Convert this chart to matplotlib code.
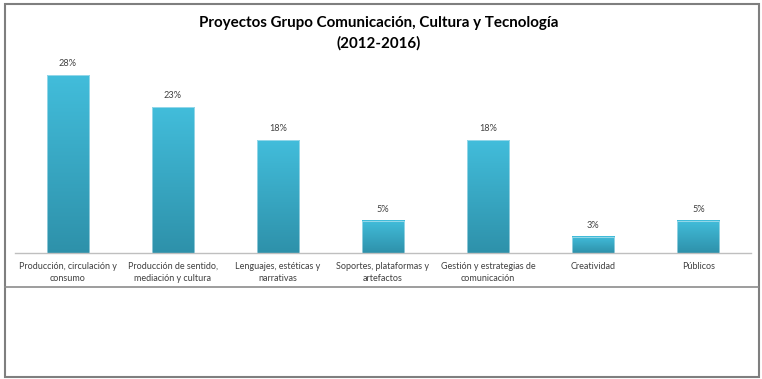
import matplotlib
matplotlib.use("Agg")
import matplotlib.pyplot as plt
import numpy as np
from matplotlib.colors import LinearSegmentedColormap
from matplotlib.patches import Rectangle
from matplotlib.lines import Line2D

categories = [
    "Producción, circulación y\nconsumo",
    "Producción de sentido,\nmediación y cultura",
    "Lenguajes, estéticas y\nnarrativas",
    "Soportes, plataformas y\nartefactos",
    "Gestión y estrategias de\ncomunicación",
    "Creatividad",
    "Públicos",
]
values = [28.2, 23.1, 17.9, 5.1, 17.9, 2.6, 5.1]
title = "Proyectos Grupo Comunicación, Cultura y Tecnología\n(2012-2016)"

W, H = 762, 379
fig = plt.figure(figsize=(W / 100, H / 100), dpi=100)
plt.rcParams['font.family'] = ['Lato', 'DejaVu Sans']

def fx(px):
    return px / W

def fy(py):
    return (H - py) / H

ax = fig.add_axes([fx(15), fy(253), fx(751) - fx(15), fy(60) - fy(253)])
x = np.arange(len(categories))
bars = ax.bar(x, values, width=0.4, color='none', edgecolor='none')

cmap = LinearSegmentedColormap.from_list("g", ["#2E91AA", "#42BDDB"])
grad = np.linspace(0, 1, 256).reshape(-1, 1)
for b in bars:
    x0 = b.get_x()
    w = b.get_width()
    h = b.get_height()
    ax.imshow(grad, extent=[x0, x0 + w, 0, h], origin='lower', cmap=cmap,
              aspect='auto', zorder=2, interpolation='bilinear')
    ax.add_patch(Rectangle((x0, 0), w, h, facecolor='none',
                           edgecolor='#D6EEF5', lw=0.4, zorder=3))
    ax.text(x0 + w / 2, h + 1.1, f"{h:.0f}%", ha='center', va='bottom',
            fontsize=6.6, color='#404040')

ax.set_xlim(-0.5, len(categories) - 0.5)
ax.set_ylim(0, 30.6)
ax.set_xticks(x)
ax.set_xticklabels(categories, fontsize=6.5, color='#404040', linespacing=1.45)
ax.tick_params(axis='x', length=0, pad=6.5)
ax.set_yticks([])
for s in ['top', 'right', 'left']:
    ax.spines[s].set_visible(False)
ax.spines['bottom'].set_color('#BFBFBF')
ax.spines['bottom'].set_linewidth(1.0)
ax.patch.set_alpha(0)

fig.text(fx(379), fy(33), title, ha='center', va='center', fontsize=10.9,
         fontweight='bold', color='black', linespacing=1.55)

fig.add_artist(Line2D([fx(5), fx(758)], [fy(287), fy(287)], color='#8C8C8C', lw=1.2))
fig.add_artist(Rectangle((fx(5), fy(377)), fx(759) - fx(5), fy(4) - fy(377),
                         facecolor='none', edgecolor='#7F7F7F', lw=1.5,
                         transform=fig.transFigure))

fig.savefig("out.png", dpi=100)
